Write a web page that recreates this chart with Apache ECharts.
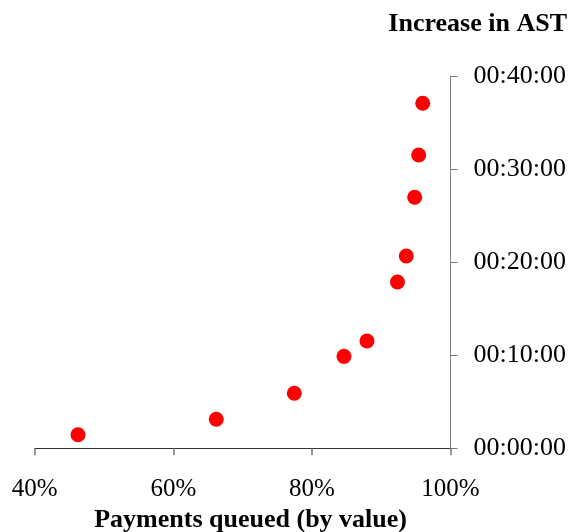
<!DOCTYPE html>
<html><head><meta charset="utf-8">
<script src="https://cdn.jsdelivr.net/npm/echarts@6/dist/echarts.min.js"></script>
<style>html,body{margin:0;padding:0;background:#fff}#c{width:576px;height:532px}</style>
</head><body><div id="c"></div>
<script>
const queuedPct = [46.25, 66.2, 77.46, 84.63, 87.95, 92.35, 93.62, 94.83, 95.41, 95.99];
const astMinutes = [1.45, 3.12, 5.91, 9.88, 11.53, 17.87, 20.66, 26.97, 31.51, 37.07];
const xTicks = [40, 60, 80, 100];
const yTicks = [0, 10, 20, 30, 40];

const pts = queuedPct.map((x, i) => [x, astMinutes[i]]);
const font = '"Liberation Serif", "Times New Roman", serif';
const chart = echarts.init(document.getElementById('c'));
chart.setOption({
  animation: false,
  title: {
    text: 'Increase in AST', right: 4, top: 6,
    textStyle: {fontFamily: font, fontWeight: 'bold', fontSize: 26, color: '#000'}
  },
  grid: {left: 34.7, right: 125.5, top: 76, bottom: 83.7, outerBoundsMode: 'none', containLabel: false},
  xAxis: {
    type: 'value', min: xTicks[0], max: xTicks[xTicks.length-1], interval: 20,
    name: 'Payments queued (by value)', nameLocation: 'middle', nameGap: 58,
    nameTextStyle: {fontFamily: font, fontWeight: 'bold', fontSize: 26, color: '#000', padding: [0, 0, 0, 16]},
    axisLine: {show: true, lineStyle: {color: '#333', width: 1}},
    axisTick: {show: true, length: 7, lineStyle: {color: '#777', width: 1.5}},
    splitLine: {show: false},
    axisLabel: {formatter: '{value}%', margin: 29, fontFamily: font, fontSize: 25, color: '#000'}
  },
  yAxis: {
    type: 'value', position: 'right', min: yTicks[0], max: yTicks[yTicks.length-1], interval: 10,
    axisLine: {show: true, lineStyle: {color: '#808080', width: 1}},
    axisTick: {show: true, length: 7, lineStyle: {color: '#777', width: 1}},
    splitLine: {show: false},
    axisLabel: {
      margin: 23, fontFamily: font, fontSize: 26, color: '#000',
      formatter: v => '00:' + String(v).padStart(2, '0') + ':00'
    }
  },
  series: [{
    type: 'scatter', data: pts, symbol: 'circle', symbolSize: 15,
    itemStyle: {color: '#ff0000', opacity: 1}
  }]
});
</script></body></html>
